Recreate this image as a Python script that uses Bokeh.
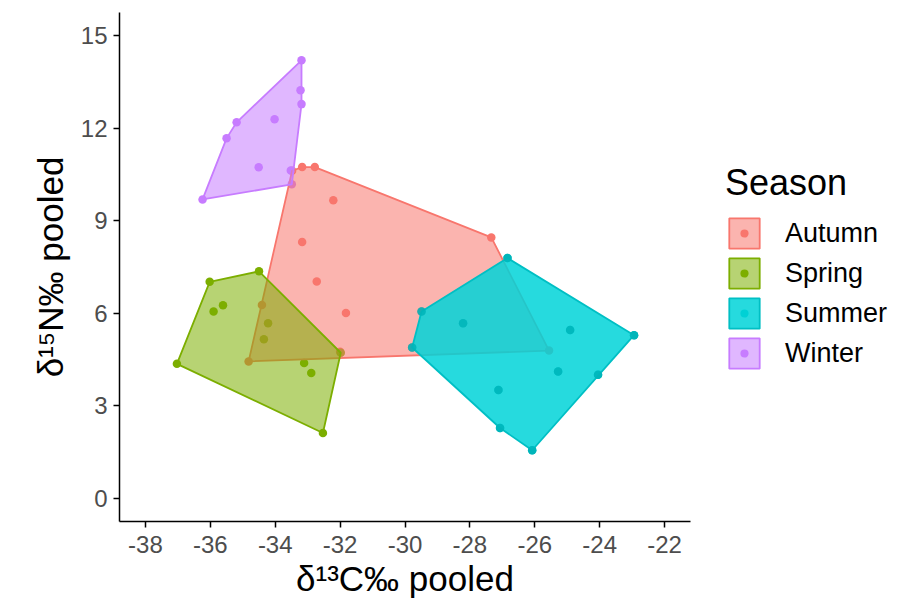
from bokeh.plotting import figure
from bokeh.models import Range1d, FixedTicker, Legend, LegendItem, ColumnDataSource
from bokeh.embed import file_html
from bokeh.resources import INLINE

# ---- data ----
seasons = ["Autumn", "Spring", "Summer", "Winter"]
season_colors = ["#F8766D", "#7CAE00", "#00BFC4", "#C77CFF"]

autumn_d13c = [-33.17, -32.78, -32.21, -33.17, -32.72, -31.82, -27.34, -25.56, -34.41, -34.82, -32.00, -33.48]
autumn_d15n = [10.74, 10.74, 9.66, 8.31, 7.03, 6.01, 8.46, 4.79, 6.27, 4.44, 4.75, 10.62]

spring_d13c = [-36.02, -34.50, -35.61, -35.90, -34.22, -34.35, -37.03, -33.11, -32.89, -31.98, -32.53]
spring_d15n = [7.02, 7.36, 6.26, 6.06, 5.68, 5.16, 4.36, 4.39, 4.06, 4.72, 2.12]

summer_d13c = [-26.84, -29.49, -29.78, -28.21, -24.91, -22.94, -25.28, -24.05, -27.12, -27.07, -26.08]
summer_d15n = [7.79, 6.06, 4.89, 5.68, 5.46, 5.29, 4.11, 4.01, 3.51, 2.28, 1.56]

winter_d13c = [-33.19, -33.22, -33.19, -35.19, -35.50, -34.02, -34.51, -36.24, -33.52, -33.49]
winter_d15n = [14.20, 13.23, 12.78, 12.19, 11.67, 12.29, 10.73, 9.69, 10.63, 10.18]

x_ticks = [-38, -36, -34, -32, -30, -28, -26, -24, -22]
x_tick_labels = ["-38", "-36", "-34", "-32", "-30", "-28", "-26", "-24", "-22"]
y_ticks = [0, 3, 6, 9, 12, 15]
y_tick_labels = ["0", "3", "6", "9", "12", "15"]

x_title = "\u03b4\u00b9\u00b3C\u2030 pooled"
y_title = "\u03b4\u00b9\u2075N\u2030 pooled"
legend_title = "Season"

series = {
    "Autumn": (autumn_d13c, autumn_d15n),
    "Spring": (spring_d13c, spring_d15n),
    "Summer": (summer_d13c, summer_d15n),
    "Winter": (winter_d13c, winter_d15n),
}


def convex_hull(xs, ys):
    pts = sorted(set(zip(xs, ys)))

    def cross(o, a, b):
        return (a[0] - o[0]) * (b[1] - o[1]) - (a[1] - o[1]) * (b[0] - o[0])

    lower = []
    for pt in pts:
        while len(lower) >= 2 and cross(lower[-2], lower[-1], pt) <= 0:
            lower.pop()
        lower.append(pt)
    upper = []
    for pt in reversed(pts):
        while len(upper) >= 2 and cross(upper[-2], upper[-1], pt) <= 0:
            upper.pop()
        upper.append(pt)
    hull = lower[:-1] + upper[:-1]
    return [q[0] for q in hull], [q[1] for q in hull]


FONT = "Liberation Sans"

p = figure(
    frame_width=571, frame_height=509,
    x_range=Range1d(-38.8, -21.2), y_range=Range1d(-0.75, 15.75),
    min_border_left=119, min_border_right=208, min_border_top=12, min_border_bottom=90,
    output_backend="svg", toolbar_location=None,
)
p.grid.visible = False
p.outline_line_color = None
p.background_fill_color = "white"
p.border_fill_color = "white"
# an off-screen range used only by the legend key dots
p.extra_y_ranges = {"legend_keys": Range1d(1000, 1001)}

# points first (polygons are drawn over them)
pt_r = {}
for s, c in zip(seasons, season_colors):
    xs, ys = series[s]
    src = ColumnDataSource(dict(x=xs, y=ys))
    pt_r[s] = p.scatter("x", "y", source=src, size=8.5, fill_color=c, line_color=None)

# legend key dots: same data mapped off-frame; the white ring shrinks the
# legend dot to the point size
key_r = {}
for s, c in zip(seasons, season_colors):
    xs, ys = series[s]
    key_r[s] = p.scatter(xs, ys, size=8.5, fill_color=c, line_color="white", line_width=7,
                         y_range_name="legend_keys")

patch_r = {}
for s, c in zip(seasons, season_colors):
    xs, ys = series[s]
    hx, hy = convex_hull(xs, ys)
    if s == "Summer":
        fc, fa = "#00D4D8", 0.85
    else:
        fc, fa = c, 0.55
    patch_r[s] = p.patch(hx, hy, fill_color=fc, fill_alpha=fa, line_color=c, line_width=1.8)

# summer points re-drawn on top to stay visible through the denser fill
sx, sy = series["Summer"]
p.scatter(sx, sy, size=8.5, fill_color="#00B3B8", fill_alpha=0.8, line_color=None)

# axes
for ax, ticks, labels in ((p.xaxis[0], x_ticks, x_tick_labels), (p.yaxis[0], y_ticks, y_tick_labels)):
    ax.ticker = FixedTicker(ticks=ticks)
    ax.major_label_overrides = {t: l for t, l in zip(ticks, labels)}
    ax.minor_tick_line_color = None
    ax.axis_line_color = "black"
    ax.axis_line_width = 1.5
    ax.major_tick_line_color = "black"
    ax.major_tick_line_width = 1.5
    ax.major_tick_out = 6
    ax.major_tick_in = 0
    ax.major_label_text_font = FONT
    ax.major_label_text_font_size = "24px"
    ax.major_label_text_color = "#4D4D4D"
    ax.axis_label_text_font = FONT
    ax.axis_label_text_font_size = "35px"
    ax.axis_label_text_font_style = "normal"
    ax.axis_label_text_color = "black"

p.xaxis.axis_label = x_title
p.yaxis.axis_label = y_title
p.xaxis.major_label_standoff = 8
p.yaxis.major_label_standoff = 6
p.xaxis.axis_label_standoff = 3
p.yaxis.axis_label_standoff = 8

items = [LegendItem(label=s, renderers=[key_r[s], patch_r[s]]) for s in seasons]
legend = Legend(
    items=items, title=legend_title, location=(35, 149),
    glyph_width=38, glyph_height=38, spacing=2, label_standoff=22,
    padding=0, margin=0, border_line_color=None, background_fill_alpha=0,
    title_text_font=FONT, title_text_font_size="36px", title_text_font_style="normal",
    title_text_color="black", title_standoff=10,
    label_text_font=FONT, label_text_font_size="27px", label_text_color="black",
)
p.add_layout(legend, "right")

open("out.html", "w").write(file_html(p, INLINE))
